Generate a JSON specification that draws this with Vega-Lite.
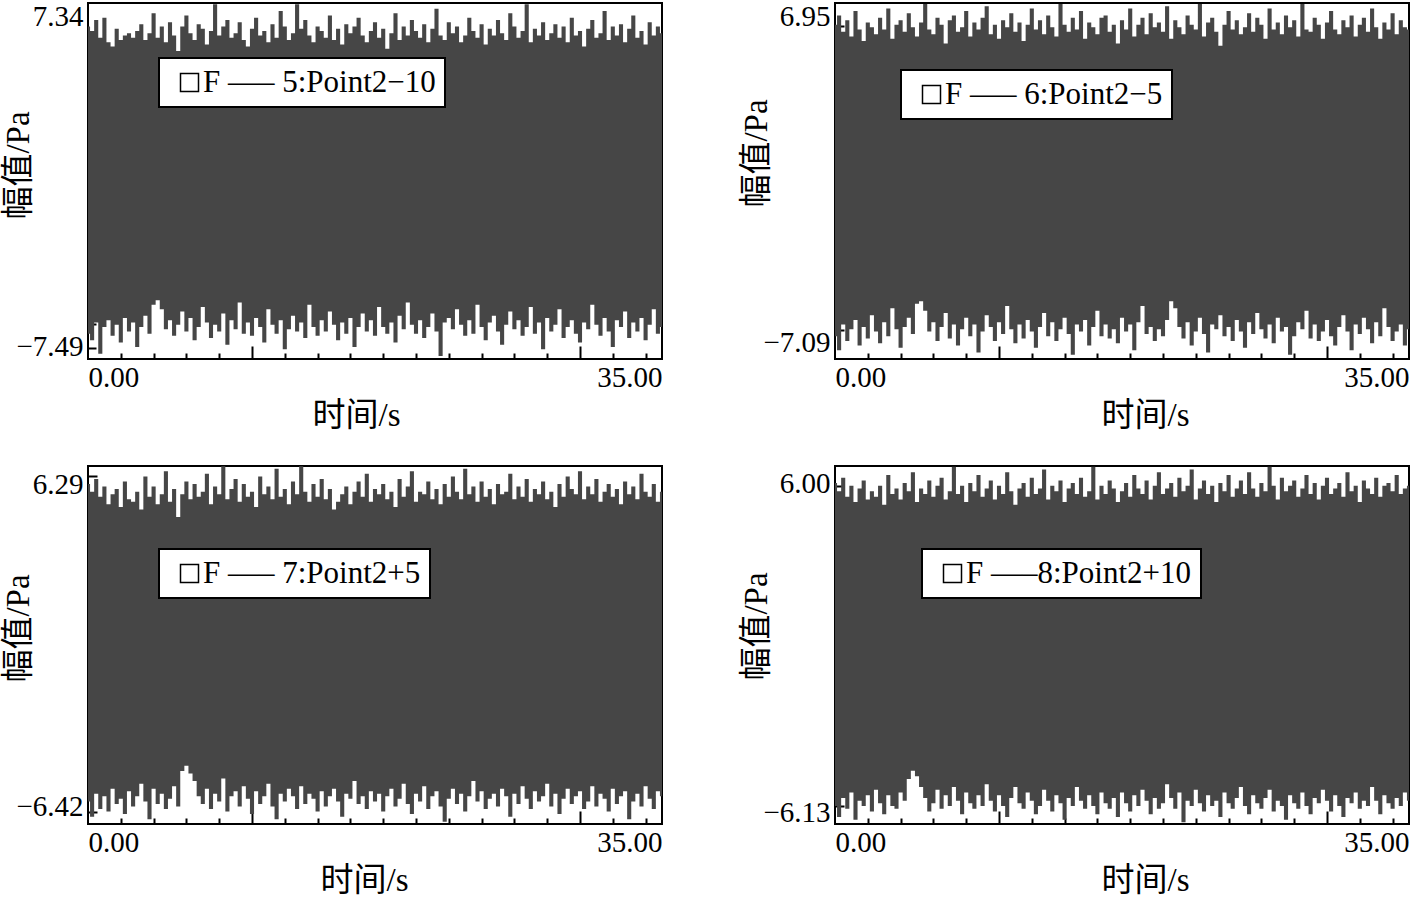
{
  "$schema": "https://vega.github.io/schema/vega-lite/v6.json",
  "background": "white",
  "padding": {"left": 1, "top": 1, "right": 0, "bottom": 0},
  "config": {
    "view": {"stroke": "black", "strokeWidth": 2},
    "axis": {"labelFont": "Liberation Serif", "labelFontSize": 29, "labelColor": "black", "titleFont": "Liberation Serif, Noto Sans CJK SC", "titleFontSize": 33, "titleFontWeight": "normal", "titleColor": "black", "domain": false, "grid": false, "tickColor": "black", "tickWidth": 2, "labelOverlap": false},
    "legend": {"strokeWidth": 2, "orient": "none", "fillColor": "white", "strokeColor": "black", "padding": 9, "symbolType": "square", "symbolSize": 324, "symbolStrokeWidth": 1.5, "symbolStrokeColor": "black", "symbolOffset": 6, "labelOffset": -2, "labelFont": "Liberation Serif", "labelFontSize": 31, "labelColor": "black", "labelLimit": 500}
  },
  "datasets": {
    "p1": [
      {"t":0,"h":6.9,"l":-6.9},{"t":0.25,"h":6.7,"l":-7.2},{"t":0.5,"h":7.2,"l":-6.4},{"t":0.75,"h":6.4,"l":-7.8},{"t":1,"h":7.3,"l":-6.6},{"t":1.25,"h":6.2,"l":-6.3},{"t":1.5,"h":6.0,"l":-7.0},{"t":1.75,"h":6.8,"l":-6.5},{"t":2,"h":6.3,"l":-7.3},{"t":2.25,"h":6.5,"l":-6.2},
      {"t":2.5,"h":6.6,"l":-6.8},{"t":2.75,"h":6.4,"l":-6.4},{"t":3,"h":6.7,"l":-7.5},{"t":3.25,"h":7.0,"l":-6.6},{"t":3.5,"h":6.3,"l":-6.1},{"t":3.75,"h":6.6,"l":-6.9},{"t":4,"h":7.5,"l":-5.6},{"t":4.25,"h":6.4,"l":-5.4},{"t":4.5,"h":6.9,"l":-5.8},{"t":4.75,"h":6.2,"l":-6.7},
      {"t":5,"h":7.1,"l":-6.3},{"t":5.25,"h":6.5,"l":-7.0},{"t":5.5,"h":5.8,"l":-6.5},{"t":5.75,"h":6.9,"l":-5.9},{"t":6,"h":7.4,"l":-6.8},{"t":6.25,"h":6.6,"l":-6.2},{"t":6.5,"h":6.3,"l":-7.2},{"t":6.75,"h":7.0,"l":-6.6},{"t":7,"h":6.8,"l":-5.7},{"t":7.25,"h":6.1,"l":-6.4},
      {"t":7.5,"h":6.7,"l":-7.1},{"t":7.75,"h":7.9,"l":-6.5},{"t":8,"h":6.5,"l":-6.8},{"t":8.25,"h":6.9,"l":-6.0},{"t":8.5,"h":7.2,"l":-7.4},{"t":8.75,"h":6.4,"l":-6.3},{"t":9,"h":6.6,"l":-6.7},{"t":9.25,"h":7.1,"l":-5.5},{"t":9.5,"h":6.3,"l":-6.9},{"t":9.75,"h":6.0,"l":-6.4},
      {"t":10,"h":6.8,"l":-7.0},{"t":10.25,"h":7.3,"l":-6.2},{"t":10.5,"h":6.5,"l":-6.6},{"t":10.75,"h":6.7,"l":-7.3},{"t":11,"h":6.2,"l":-5.8},{"t":11.25,"h":7.0,"l":-6.5},{"t":11.5,"h":6.4,"l":-6.9},{"t":11.75,"h":7.6,"l":-6.3},{"t":12,"h":6.9,"l":-7.6},{"t":12.25,"h":6.3,"l":-6.7},
      {"t":12.5,"h":6.6,"l":-6.1},{"t":12.75,"h":7.9,"l":-6.8},{"t":13,"h":6.8,"l":-6.4},{"t":13.25,"h":7.2,"l":-7.1},{"t":13.5,"h":6.5,"l":-5.6},{"t":13.75,"h":6.2,"l":-6.6},{"t":14,"h":6.9,"l":-7.0},{"t":14.25,"h":6.7,"l":-6.3},{"t":14.5,"h":6.4,"l":-6.8},{"t":14.75,"h":7.4,"l":-5.9},
      {"t":15,"h":6.3,"l":-6.5},{"t":15.25,"h":6.8,"l":-7.2},{"t":15.5,"h":6.1,"l":-6.4},{"t":15.75,"h":7.0,"l":-6.9},{"t":16,"h":6.6,"l":-6.2},{"t":16.25,"h":6.9,"l":-7.5},{"t":16.5,"h":7.3,"l":-6.6},{"t":16.75,"h":6.5,"l":-6.0},{"t":17,"h":6.2,"l":-6.8},{"t":17.25,"h":6.7,"l":-6.3},
      {"t":17.5,"h":7.1,"l":-7.0},{"t":17.75,"h":6.4,"l":-5.7},{"t":18,"h":6.8,"l":-6.6},{"t":18.25,"h":5.9,"l":-6.9},{"t":18.5,"h":6.6,"l":-6.4},{"t":18.75,"h":7.5,"l":-7.3},{"t":19,"h":6.3,"l":-6.1},{"t":19.25,"h":6.9,"l":-6.7},{"t":19.5,"h":6.5,"l":-5.5},{"t":19.75,"h":7.2,"l":-6.5},
      {"t":20,"h":6.7,"l":-6.9},{"t":20.25,"h":6.4,"l":-6.3},{"t":20.5,"h":7.0,"l":-7.1},{"t":20.75,"h":6.2,"l":-6.6},{"t":21,"h":6.8,"l":-6.0},{"t":21.25,"h":7.7,"l":-6.8},{"t":21.5,"h":6.5,"l":-7.9},{"t":21.75,"h":6.3,"l":-6.4},{"t":22,"h":7.1,"l":-6.2},{"t":22.25,"h":6.6,"l":-6.7},
      {"t":22.5,"h":6.9,"l":-5.8},{"t":22.75,"h":6.2,"l":-6.5},{"t":23,"h":6.5,"l":-7.0},{"t":23.25,"h":7.3,"l":-6.3},{"t":23.5,"h":6.7,"l":-6.9},{"t":23.75,"h":6.4,"l":-5.6},{"t":24,"h":7.0,"l":-6.6},{"t":24.25,"h":6.1,"l":-7.2},{"t":24.5,"h":6.8,"l":-6.4},{"t":24.75,"h":6.5,"l":-6.1},
      {"t":25,"h":7.2,"l":-6.8},{"t":25.25,"h":6.6,"l":-7.4},{"t":25.5,"h":6.3,"l":-6.5},{"t":25.75,"h":7.5,"l":-5.9},{"t":26,"h":6.9,"l":-6.7},{"t":26.25,"h":6.4,"l":-6.3},{"t":26.5,"h":6.7,"l":-7.0},{"t":26.75,"h":7.9,"l":-6.6},{"t":27,"h":6.2,"l":-5.7},{"t":27.25,"h":6.8,"l":-6.9},
      {"t":27.5,"h":6.5,"l":-6.4},{"t":27.75,"h":7.1,"l":-7.6},{"t":28,"h":6.3,"l":-6.2},{"t":28.25,"h":6.6,"l":-6.8},{"t":28.5,"h":7.0,"l":-6.5},{"t":28.75,"h":6.4,"l":-5.8},{"t":29,"h":6.9,"l":-7.1},{"t":29.25,"h":6.2,"l":-6.6},{"t":29.5,"h":7.3,"l":-6.3},{"t":29.75,"h":6.5,"l":-6.9},
      {"t":30,"h":6.7,"l":-7.3},{"t":30.25,"h":6.0,"l":-6.4},{"t":30.5,"h":6.8,"l":-6.7},{"t":30.75,"h":7.2,"l":-5.6},{"t":31,"h":6.4,"l":-6.5},{"t":31.25,"h":6.6,"l":-7.0},{"t":31.5,"h":7.6,"l":-6.2},{"t":31.75,"h":6.3,"l":-6.8},{"t":32,"h":6.9,"l":-7.5},{"t":32.25,"h":6.5,"l":-6.3},
      {"t":32.5,"h":7.0,"l":-6.6},{"t":32.75,"h":6.2,"l":-5.9},{"t":33,"h":6.8,"l":-7.1},{"t":33.25,"h":7.4,"l":-6.4},{"t":33.5,"h":6.4,"l":-6.8},{"t":33.75,"h":6.7,"l":-6.2},{"t":34,"h":6.1,"l":-7.2},{"t":34.25,"h":7.1,"l":-6.5},{"t":34.5,"h":6.5,"l":-5.8},{"t":34.75,"h":6.9,"l":-6.9},{"t":35,"h":6.6,"l":-6.6}
    ],
    "p2": [
      {"t":0,"h":6.6,"l":-6.8},{"t":0.25,"h":7.0,"l":-7.4},{"t":0.5,"h":6.3,"l":-6.3},{"t":0.75,"h":6.8,"l":-7.0},{"t":1,"h":6.1,"l":-6.5},{"t":1.25,"h":7.2,"l":-6.1},{"t":1.5,"h":6.4,"l":-7.2},{"t":1.75,"h":5.9,"l":-6.4},{"t":2,"h":6.7,"l":-6.9},{"t":2.25,"h":6.5,"l":-5.9},
      {"t":2.5,"h":6.2,"l":-6.6},{"t":2.75,"h":6.9,"l":-7.1},{"t":3,"h":6.4,"l":-6.2},{"t":3.25,"h":7.3,"l":-6.8},{"t":3.5,"h":6.0,"l":-5.6},{"t":3.75,"h":6.6,"l":-6.5},{"t":4,"h":6.8,"l":-7.3},{"t":4.25,"h":6.3,"l":-6.4},{"t":4.5,"h":7.1,"l":-6.0},{"t":4.75,"h":6.5,"l":-6.7},
      {"t":5,"h":6.1,"l":-5.4},{"t":5.25,"h":6.7,"l":-5.3},{"t":5.5,"h":7.5,"l":-5.7},{"t":5.75,"h":6.4,"l":-6.6},{"t":6,"h":6.2,"l":-6.2},{"t":6.25,"h":6.9,"l":-7.0},{"t":6.5,"h":6.6,"l":-6.4},{"t":6.75,"h":5.8,"l":-5.8},{"t":7,"h":6.8,"l":-6.9},{"t":7.25,"h":7.0,"l":-6.3},
      {"t":7.5,"h":6.3,"l":-7.2},{"t":7.75,"h":6.5,"l":-6.5},{"t":8,"h":7.2,"l":-6.0},{"t":8.25,"h":6.1,"l":-6.8},{"t":8.5,"h":6.7,"l":-6.3},{"t":8.75,"h":6.4,"l":-7.5},{"t":9,"h":6.9,"l":-6.6},{"t":9.25,"h":7.4,"l":-5.9},{"t":9.5,"h":6.2,"l":-6.4},{"t":9.75,"h":6.6,"l":-7.0},
      {"t":10,"h":6.0,"l":-6.2},{"t":10.25,"h":6.8,"l":-6.7},{"t":10.5,"h":6.5,"l":-5.5},{"t":10.75,"h":7.1,"l":-6.5},{"t":11,"h":6.3,"l":-7.1},{"t":11.25,"h":6.7,"l":-6.3},{"t":11.5,"h":5.9,"l":-6.9},{"t":11.75,"h":6.6,"l":-6.1},{"t":12,"h":7.3,"l":-6.6},{"t":12.25,"h":6.4,"l":-7.3},
      {"t":12.5,"h":6.8,"l":-6.4},{"t":12.75,"h":6.2,"l":-5.8},{"t":13,"h":7.0,"l":-6.8},{"t":13.25,"h":6.5,"l":-6.2},{"t":13.5,"h":6.1,"l":-7.0},{"t":13.75,"h":7.5,"l":-6.5},{"t":14,"h":6.6,"l":-6.0},{"t":14.25,"h":6.3,"l":-6.7},{"t":14.5,"h":6.9,"l":-7.6},{"t":14.75,"h":6.4,"l":-6.3},
      {"t":15,"h":7.2,"l":-6.6},{"t":15.25,"h":6.0,"l":-6.1},{"t":15.5,"h":6.7,"l":-7.2},{"t":15.75,"h":6.5,"l":-6.4},{"t":16,"h":6.2,"l":-5.7},{"t":16.25,"h":6.9,"l":-6.8},{"t":16.5,"h":7.0,"l":-6.3},{"t":16.75,"h":6.3,"l":-6.9},{"t":17,"h":6.6,"l":-6.5},{"t":17.25,"h":5.8,"l":-7.1},
      {"t":17.5,"h":6.8,"l":-6.0},{"t":17.75,"h":6.4,"l":-6.6},{"t":18,"h":7.3,"l":-6.3},{"t":18.25,"h":6.1,"l":-7.4},{"t":18.5,"h":6.6,"l":-6.2},{"t":18.75,"h":6.9,"l":-5.5},{"t":19,"h":6.2,"l":-6.7},{"t":19.25,"h":7.1,"l":-6.4},{"t":19.5,"h":6.5,"l":-7.0},{"t":19.75,"h":6.7,"l":-6.5},
      {"t":20,"h":6.3,"l":-6.8},{"t":20.25,"h":7.4,"l":-6.1},{"t":20.5,"h":6.0,"l":-5.3},{"t":20.75,"h":6.8,"l":-5.6},{"t":21,"h":6.5,"l":-6.4},{"t":21.25,"h":6.2,"l":-6.9},{"t":21.5,"h":7.0,"l":-6.2},{"t":21.75,"h":6.6,"l":-7.2},{"t":22,"h":6.4,"l":-6.6},{"t":22.25,"h":7.5,"l":-6.0},
      {"t":22.5,"h":6.1,"l":-6.7},{"t":22.75,"h":6.7,"l":-7.5},{"t":23,"h":6.9,"l":-6.3},{"t":23.25,"h":6.3,"l":-6.5},{"t":23.5,"h":5.7,"l":-5.9},{"t":23.75,"h":6.6,"l":-6.8},{"t":24,"h":7.2,"l":-6.4},{"t":24.25,"h":6.4,"l":-7.0},{"t":24.5,"h":6.8,"l":-6.1},{"t":24.75,"h":6.2,"l":-6.6},
      {"t":25,"h":6.5,"l":-7.3},{"t":25.25,"h":7.1,"l":-6.2},{"t":25.5,"h":6.3,"l":-6.7},{"t":25.75,"h":6.9,"l":-5.8},{"t":26,"h":6.6,"l":-6.5},{"t":26.25,"h":6.0,"l":-6.9},{"t":26.5,"h":7.3,"l":-6.3},{"t":26.75,"h":6.4,"l":-7.1},{"t":27,"h":6.7,"l":-6.0},{"t":27.25,"h":6.2,"l":-6.6},
      {"t":27.5,"h":7.0,"l":-6.4},{"t":27.75,"h":6.5,"l":-7.6},{"t":28,"h":6.8,"l":-6.8},{"t":28.25,"h":6.1,"l":-6.2},{"t":28.5,"h":7.5,"l":-6.5},{"t":28.75,"h":6.4,"l":-5.7},{"t":29,"h":6.3,"l":-6.9},{"t":29.25,"h":6.9,"l":-6.3},{"t":29.5,"h":6.6,"l":-7.0},{"t":29.75,"h":6.0,"l":-6.6},
      {"t":30,"h":6.7,"l":-6.1},{"t":30.25,"h":7.2,"l":-6.8},{"t":30.5,"h":6.4,"l":-7.2},{"t":30.75,"h":6.2,"l":-6.4},{"t":31,"h":6.8,"l":-5.9},{"t":31.25,"h":6.5,"l":-6.6},{"t":31.5,"h":7.0,"l":-7.4},{"t":31.75,"h":6.1,"l":-6.3},{"t":32,"h":6.6,"l":-6.7},{"t":32.25,"h":6.9,"l":-6.0},
      {"t":32.5,"h":6.3,"l":-6.5},{"t":32.75,"h":7.3,"l":-7.1},{"t":33,"h":6.5,"l":-6.2},{"t":33.25,"h":6.0,"l":-6.8},{"t":33.5,"h":6.7,"l":-5.6},{"t":33.75,"h":6.4,"l":-6.4},{"t":34,"h":7.1,"l":-7.0},{"t":34.25,"h":6.2,"l":-6.6},{"t":34.5,"h":6.8,"l":-6.3},{"t":34.75,"h":6.5,"l":-7.2},{"t":35,"h":6.4,"l":-6.5}
    ],
    "p3": [
      {"t":0,"h":6.3,"l":-6.2},{"t":0.25,"h":6.0,"l":-6.8},{"t":0.5,"h":6.5,"l":-5.9},{"t":0.75,"h":5.8,"l":-6.5},{"t":1,"h":6.2,"l":-6.0},{"t":1.25,"h":5.5,"l":-6.6},{"t":1.5,"h":5.9,"l":-5.7},{"t":1.75,"h":6.1,"l":-6.3},{"t":2,"h":5.4,"l":-6.1},{"t":2.25,"h":6.4,"l":-6.7},
      {"t":2.5,"h":5.7,"l":-5.8},{"t":2.75,"h":5.6,"l":-6.4},{"t":3,"h":6.0,"l":-6.0},{"t":3.25,"h":5.3,"l":-5.5},{"t":3.5,"h":6.6,"l":-6.2},{"t":3.75,"h":5.8,"l":-6.9},{"t":4,"h":6.2,"l":-5.7},{"t":4.25,"h":5.5,"l":-6.3},{"t":4.5,"h":5.9,"l":-5.9},{"t":4.75,"h":6.8,"l":-6.5},
      {"t":5,"h":5.6,"l":-6.1},{"t":5.25,"h":6.1,"l":-5.6},{"t":5.5,"h":5.0,"l":-6.4},{"t":5.75,"h":5.9,"l":-5.0},{"t":6,"h":6.4,"l":-4.8},{"t":6.25,"h":5.7,"l":-5.1},{"t":6.5,"h":6.3,"l":-5.4},{"t":6.75,"h":5.8,"l":-6.0},{"t":7,"h":6.0,"l":-6.3},{"t":7.25,"h":6.7,"l":-5.7},
      {"t":7.5,"h":5.5,"l":-6.5},{"t":7.75,"h":6.2,"l":-5.9},{"t":8,"h":5.9,"l":-6.2},{"t":8.25,"h":7.0,"l":-5.3},{"t":8.5,"h":5.7,"l":-6.6},{"t":8.75,"h":6.1,"l":-6.0},{"t":9,"h":6.5,"l":-5.8},{"t":9.25,"h":5.6,"l":-6.4},{"t":9.5,"h":6.3,"l":-5.6},{"t":9.75,"h":5.8,"l":-6.1},
      {"t":10,"h":6.0,"l":-6.7},{"t":10.25,"h":5.4,"l":-5.8},{"t":10.5,"h":6.6,"l":-6.3},{"t":10.75,"h":5.9,"l":-6.0},{"t":11,"h":6.2,"l":-5.5},{"t":11.25,"h":5.7,"l":-6.4},{"t":11.5,"h":6.9,"l":-6.9},{"t":11.75,"h":5.8,"l":-5.9},{"t":12,"h":6.1,"l":-6.2},{"t":12.25,"h":5.5,"l":-5.7},
      {"t":12.5,"h":6.4,"l":-6.0},{"t":12.75,"h":5.9,"l":-6.5},{"t":13,"h":7.0,"l":-5.6},{"t":13.25,"h":6.0,"l":-6.3},{"t":13.5,"h":5.6,"l":-5.9},{"t":13.75,"h":6.3,"l":-6.1},{"t":14,"h":5.8,"l":-6.6},{"t":14.25,"h":6.5,"l":-5.8},{"t":14.5,"h":5.7,"l":-6.4},{"t":14.75,"h":6.1,"l":-6.0},
      {"t":15,"h":5.3,"l":-5.7},{"t":15.25,"h":5.6,"l":-6.2},{"t":15.5,"h":5.9,"l":-6.8},{"t":15.75,"h":6.2,"l":-5.9},{"t":16,"h":5.5,"l":-6.1},{"t":16.25,"h":6.0,"l":-5.4},{"t":16.5,"h":6.4,"l":-6.3},{"t":16.75,"h":5.8,"l":-6.0},{"t":17,"h":6.7,"l":-6.5},{"t":17.25,"h":5.6,"l":-5.8},
      {"t":17.5,"h":6.1,"l":-6.2},{"t":17.75,"h":5.9,"l":-5.9},{"t":18,"h":6.3,"l":-6.6},{"t":18.25,"h":5.7,"l":-6.0},{"t":18.5,"h":6.0,"l":-5.7},{"t":18.75,"h":5.4,"l":-6.4},{"t":19,"h":6.5,"l":-6.1},{"t":19.25,"h":5.8,"l":-5.5},{"t":19.5,"h":6.2,"l":-6.3},{"t":19.75,"h":6.8,"l":-6.7},
      {"t":20,"h":5.6,"l":-5.9},{"t":20.25,"h":6.0,"l":-6.2},{"t":20.5,"h":5.9,"l":-5.6},{"t":20.75,"h":6.4,"l":-6.5},{"t":21,"h":5.7,"l":-6.0},{"t":21.25,"h":6.1,"l":-5.8},{"t":21.5,"h":5.5,"l":-6.4},{"t":21.75,"h":6.3,"l":-7.0},{"t":22,"h":5.8,"l":-6.1},{"t":22.25,"h":6.6,"l":-5.7},
      {"t":22.5,"h":6.0,"l":-6.3},{"t":22.75,"h":5.7,"l":-5.9},{"t":23,"h":6.9,"l":-6.6},{"t":23.25,"h":5.9,"l":-6.0},{"t":23.5,"h":6.2,"l":-5.4},{"t":23.75,"h":5.6,"l":-6.2},{"t":24,"h":6.4,"l":-5.8},{"t":24.25,"h":5.8,"l":-6.5},{"t":24.5,"h":6.1,"l":-6.1},{"t":24.75,"h":5.5,"l":-5.9},
      {"t":25,"h":6.3,"l":-6.4},{"t":25.25,"h":5.9,"l":-5.7},{"t":25.5,"h":6.0,"l":-6.0},{"t":25.75,"h":6.7,"l":-6.8},{"t":26,"h":5.7,"l":-5.9},{"t":26.25,"h":6.2,"l":-6.3},{"t":26.5,"h":5.8,"l":-5.6},{"t":26.75,"h":6.5,"l":-6.1},{"t":27,"h":5.6,"l":-6.5},{"t":27.25,"h":6.1,"l":-5.8},
      {"t":27.5,"h":5.9,"l":-6.2},{"t":27.75,"h":6.4,"l":-6.0},{"t":28,"h":5.7,"l":-5.5},{"t":28.25,"h":6.0,"l":-6.4},{"t":28.5,"h":5.4,"l":-5.9},{"t":28.75,"h":6.3,"l":-6.7},{"t":29,"h":5.8,"l":-6.1},{"t":29.25,"h":6.6,"l":-5.7},{"t":29.5,"h":6.1,"l":-6.3},{"t":29.75,"h":5.9,"l":-6.0},
      {"t":30,"h":6.8,"l":-5.8},{"t":30.25,"h":5.7,"l":-6.5},{"t":30.5,"h":6.2,"l":-6.2},{"t":30.75,"h":5.9,"l":-5.6},{"t":31,"h":6.5,"l":-6.4},{"t":31.25,"h":5.6,"l":-5.9},{"t":31.5,"h":6.0,"l":-6.1},{"t":31.75,"h":6.3,"l":-6.6},{"t":32,"h":5.8,"l":-5.7},{"t":32.25,"h":6.1,"l":-6.3},
      {"t":32.5,"h":5.5,"l":-6.0},{"t":32.75,"h":6.4,"l":-5.8},{"t":33,"h":5.9,"l":-6.9},{"t":33.25,"h":6.2,"l":-6.2},{"t":33.5,"h":5.7,"l":-5.9},{"t":33.75,"h":6.7,"l":-6.4},{"t":34,"h":6.0,"l":-5.6},{"t":34.25,"h":5.8,"l":-6.1},{"t":34.5,"h":6.3,"l":-6.5},{"t":34.75,"h":5.6,"l":-5.8},{"t":35,"h":6.0,"l":-6.0}
    ],
    "p4": [
      {"t":0,"h":6.0,"l":-5.9},{"t":0.25,"h":5.7,"l":-6.3},{"t":0.5,"h":6.2,"l":-5.6},{"t":0.75,"h":5.5,"l":-6.0},{"t":1,"h":5.9,"l":-5.4},{"t":1.25,"h":5.3,"l":-6.4},{"t":1.5,"h":5.8,"l":-5.7},{"t":1.75,"h":6.1,"l":-5.9},{"t":2,"h":5.4,"l":-5.5},{"t":2.25,"h":5.7,"l":-6.1},
      {"t":2.5,"h":5.5,"l":-5.3},{"t":2.75,"h":5.9,"l":-5.8},{"t":3,"h":5.2,"l":-6.2},{"t":3.25,"h":6.3,"l":-5.5},{"t":3.5,"h":5.6,"l":-5.9},{"t":3.75,"h":5.8,"l":-6.0},{"t":4,"h":5.4,"l":-5.4},{"t":4.25,"h":6.0,"l":-5.7},{"t":4.5,"h":5.7,"l":-4.9},{"t":4.75,"h":6.4,"l":-4.6},
      {"t":5,"h":5.3,"l":-4.8},{"t":5.25,"h":5.8,"l":-5.2},{"t":5.5,"h":5.6,"l":-5.6},{"t":5.75,"h":6.1,"l":-6.1},{"t":6,"h":5.5,"l":-5.8},{"t":6.25,"h":5.9,"l":-5.3},{"t":6.5,"h":6.2,"l":-6.0},{"t":6.75,"h":5.4,"l":-5.5},{"t":7,"h":5.7,"l":-5.9},{"t":7.25,"h":6.6,"l":-5.2},
      {"t":7.5,"h":5.6,"l":-5.7},{"t":7.75,"h":5.9,"l":-6.2},{"t":8,"h":5.3,"l":-5.4},{"t":8.25,"h":6.0,"l":-5.8},{"t":8.5,"h":5.7,"l":-6.0},{"t":8.75,"h":6.3,"l":-5.5},{"t":9,"h":5.5,"l":-5.9},{"t":9.25,"h":5.8,"l":-5.1},{"t":9.5,"h":6.1,"l":-5.7},{"t":9.75,"h":5.4,"l":-6.1},
      {"t":10,"h":5.9,"l":-5.5},{"t":10.25,"h":5.6,"l":-5.9},{"t":10.5,"h":6.4,"l":-6.3},{"t":10.75,"h":5.7,"l":-5.6},{"t":11,"h":5.2,"l":-5.2},{"t":11.25,"h":5.8,"l":-5.8},{"t":11.5,"h":6.0,"l":-6.0},{"t":11.75,"h":5.5,"l":-5.4},{"t":12,"h":6.2,"l":-5.7},{"t":12.25,"h":5.6,"l":-6.2},
      {"t":12.5,"h":5.8,"l":-5.9},{"t":12.75,"h":6.5,"l":-5.3},{"t":13,"h":5.4,"l":-5.7},{"t":13.25,"h":5.9,"l":-6.1},{"t":13.5,"h":5.7,"l":-5.5},{"t":13.75,"h":6.1,"l":-5.8},{"t":14,"h":5.3,"l":-6.4},{"t":14.25,"h":5.8,"l":-5.6},{"t":14.5,"h":6.0,"l":-5.9},{"t":14.75,"h":5.6,"l":-5.2},
      {"t":15,"h":6.2,"l":-5.7},{"t":15.25,"h":5.5,"l":-6.0},{"t":15.5,"h":5.7,"l":-5.5},{"t":15.75,"h":6.6,"l":-5.9},{"t":16,"h":5.4,"l":-6.2},{"t":16.25,"h":5.9,"l":-5.4},{"t":16.5,"h":5.6,"l":-5.8},{"t":16.75,"h":6.1,"l":-6.0},{"t":17,"h":5.8,"l":-5.6},{"t":17.25,"h":5.3,"l":-6.3},
      {"t":17.5,"h":5.7,"l":-5.4},{"t":17.75,"h":6.0,"l":-5.8},{"t":18,"h":5.5,"l":-6.1},{"t":18.25,"h":6.3,"l":-5.5},{"t":18.5,"h":5.8,"l":-5.9},{"t":18.75,"h":5.6,"l":-5.3},{"t":19,"h":6.1,"l":-5.7},{"t":19.25,"h":5.4,"l":-6.2},{"t":19.5,"h":5.9,"l":-5.6},{"t":19.75,"h":6.4,"l":-6.0},
      {"t":20,"h":5.6,"l":-5.8},{"t":20.25,"h":5.8,"l":-5.1},{"t":20.5,"h":6.0,"l":-5.6},{"t":20.75,"h":5.5,"l":-6.0},{"t":21,"h":6.2,"l":-5.4},{"t":21.25,"h":5.7,"l":-6.5},{"t":21.5,"h":5.9,"l":-5.7},{"t":21.75,"h":6.5,"l":-5.9},{"t":22,"h":5.4,"l":-5.3},{"t":22.25,"h":5.8,"l":-5.8},
      {"t":22.5,"h":6.1,"l":-6.1},{"t":22.75,"h":5.6,"l":-5.5},{"t":23,"h":5.9,"l":-5.9},{"t":23.25,"h":5.3,"l":-5.7},{"t":23.5,"h":6.0,"l":-6.3},{"t":23.75,"h":5.7,"l":-5.4},{"t":24,"h":6.3,"l":-5.8},{"t":24.25,"h":5.5,"l":-6.0},{"t":24.5,"h":5.8,"l":-5.6},{"t":24.75,"h":6.1,"l":-5.2},
      {"t":25,"h":5.6,"l":-5.9},{"t":25.25,"h":6.4,"l":-6.2},{"t":25.5,"h":5.8,"l":-5.5},{"t":25.75,"h":5.5,"l":-5.8},{"t":26,"h":6.0,"l":-6.0},{"t":26.25,"h":5.7,"l":-5.6},{"t":26.5,"h":6.6,"l":-5.3},{"t":26.75,"h":5.9,"l":-6.1},{"t":27,"h":5.4,"l":-5.7},{"t":27.25,"h":6.2,"l":-5.9},
      {"t":27.5,"h":5.7,"l":-6.4},{"t":27.75,"h":5.9,"l":-5.5},{"t":28,"h":6.1,"l":-5.8},{"t":28.25,"h":5.5,"l":-6.0},{"t":28.5,"h":5.8,"l":-5.4},{"t":28.75,"h":6.3,"l":-5.9},{"t":29,"h":5.6,"l":-6.2},{"t":29.25,"h":6.0,"l":-5.6},{"t":29.5,"h":5.4,"l":-5.8},{"t":29.75,"h":5.9,"l":-5.3},
      {"t":30,"h":6.2,"l":-5.7},{"t":30.25,"h":5.6,"l":-6.1},{"t":30.5,"h":5.8,"l":-5.5},{"t":30.75,"h":6.0,"l":-5.9},{"t":31,"h":5.5,"l":-6.3},{"t":31.25,"h":6.4,"l":-5.6},{"t":31.5,"h":5.7,"l":-5.8},{"t":31.75,"h":5.9,"l":-5.4},{"t":32,"h":5.3,"l":-6.0},{"t":32.25,"h":6.1,"l":-5.7},
      {"t":32.5,"h":5.8,"l":-5.9},{"t":32.75,"h":5.6,"l":-5.2},{"t":33,"h":6.2,"l":-5.7},{"t":33.25,"h":5.5,"l":-6.2},{"t":33.5,"h":5.9,"l":-5.5},{"t":33.75,"h":6.0,"l":-5.8},{"t":34,"h":5.7,"l":-6.0},{"t":34.25,"h":6.3,"l":-5.6},{"t":34.5,"h":5.6,"l":-5.9},{"t":34.75,"h":5.8,"l":-5.4},{"t":35,"h":5.9,"l":-5.7}
    ]
  },
  "columns": 2,
  "spacing": {"row": 28, "column": 75},
  "resolve": {"scale": {"x": "independent", "y": "independent", "shape": "independent"}, "axis": {"x": "independent", "y": "independent"}, "legend": {"shape": "independent"}},
  "concat": [
    {
      "width": 574, "height": 356,
      "layer": [
        {
          "data": {"name": "p1"},
          "mark": {"type": "area", "interpolate": "step", "clip": true, "color": "#464646"},
          "encoding": {
            "x": {"field": "t", "type": "quantitative", "scale": {"domain": [0, 35], "nice": false, "zero": false},
              "axis": {"values": [0,2,4,6,8,10,12,14,16,18,20,22,24,26,28,30,32,34,35], "labelExpr": "datum.value == 0 || datum.value == 35 ? format(datum.value, '.2f') : ''", "labelFlush": true, "labelPadding": 4, "tickSize": {"expr": "datum.value == 10 || datum.value == 30 ? -13 : ((datum.value == 0 || datum.value == 35) ? 0 : -6)"}, "title": "时间/s", "titleX": 268, "titleY": 56, "titleAlign": "center", "titleBaseline": "middle"}},
            "y": {"field": "h", "type": "quantitative", "scale": {"domain": [-8.04, 7.96], "nice": false, "zero": false},
              "axis": {"values": [-7.49,-7.56,-6.48,-5.4,-4.32,-3.24,-2.16,-1.08,0,1.08,2.16,3.24,4.32,5.4,6.48,7.34], "labelExpr": "datum.value == 7.34 || datum.value == -7.49 ? format(datum.value, '.2f') : ''", "labelPadding": 5, "tickSize": {"expr": "datum.value == 0 ? -16 : ((datum.value == 7.34 || datum.value == -7.49) ? 0 : -8)"}, "title": "幅值/Pa", "titleX": -70, "titleY": 162, "titleAngle": -90, "titleAlign": "center", "titleBaseline": "middle"}},
            "y2": {"field": "l"}
          }
        },
        {
          "data": {"values": []},
          "mark": {"type": "point", "filled": false, "color": "black", "opacity": 1, "size": 324, "strokeWidth": 1.5},
          "encoding": {
            "shape": {"datum": "F —– 5:Point2−10", "type": "nominal", "scale": {"range": ["square"]},
              "legend": {"legendX": 71, "legendY": 55, "title": null}}
          }
        }
      ]
    },
    {
      "width": 574, "height": 356,
      "layer": [
        {
          "data": {"name": "p2"},
          "mark": {"type": "area", "interpolate": "step", "clip": true, "color": "#464646"},
          "encoding": {
            "x": {"field": "t", "type": "quantitative", "scale": {"domain": [0, 35], "nice": false, "zero": false},
              "axis": {"values": [0,2,4,6,8,10,12,14,16,18,20,22,24,26,28,30,32,34,35], "labelExpr": "datum.value == 0 || datum.value == 35 ? format(datum.value, '.2f') : ''", "labelFlush": true, "labelPadding": 4, "tickSize": {"expr": "datum.value == 10 || datum.value == 30 ? -13 : ((datum.value == 0 || datum.value == 35) ? 0 : -6)"}, "title": "时间/s", "titleX": 310, "titleY": 56, "titleAlign": "center", "titleBaseline": "middle"}},
            "y": {"field": "h", "type": "quantitative", "scale": {"domain": [-7.78, 7.54], "nice": false, "zero": false},
              "axis": {"values": [-7.09,-6.54,-5.45,-4.36,-3.27,-2.18,-1.09,0,1.09,2.18,3.27,4.36,5.45,6.54,6.95], "labelExpr": "datum.value == 6.95 || datum.value == -7.09 ? format(datum.value, '.2f') : ''", "labelPadding": 5, "tickSize": {"expr": "datum.value == 0 ? -16 : ((datum.value == 6.95 || datum.value == -7.09) ? 0 : -9)"}, "title": "幅值/Pa", "titleX": -79, "titleY": 150, "titleAngle": -90, "titleAlign": "center", "titleBaseline": "middle"}},
            "y2": {"field": "l"}
          }
        },
        {
          "data": {"values": []},
          "mark": {"type": "point", "filled": false, "color": "black", "opacity": 1, "size": 324, "strokeWidth": 1.5},
          "encoding": {
            "shape": {"datum": "F —– 6:Point2−5", "type": "nominal", "scale": {"range": ["square"]},
              "legend": {"legendX": 66, "legendY": 67, "title": null}}
          }
        }
      ]
    },
    {
      "width": 574, "height": 358,
      "layer": [
        {
          "data": {"name": "p3"},
          "mark": {"type": "area", "interpolate": "step", "clip": true, "color": "#464646"},
          "encoding": {
            "x": {"field": "t", "type": "quantitative", "scale": {"domain": [0, 35], "nice": false, "zero": false},
              "axis": {"values": [0,2,4,6,8,10,12,14,16,18,20,22,24,26,28,30,32,34,35], "labelExpr": "datum.value == 0 || datum.value == 35 ? format(datum.value, '.2f') : ''", "labelFlush": true, "labelPadding": 4, "tickSize": {"expr": "datum.value == 10 || datum.value == 30 ? -13 : ((datum.value == 0 || datum.value == 35) ? 0 : -6)"}, "title": "时间/s", "titleX": 276, "titleY": 56, "titleAlign": "center", "titleBaseline": "middle"}},
            "y": {"field": "h", "type": "quantitative", "scale": {"domain": [-7.09, 7.01], "nice": false, "zero": false},
              "axis": {"values": [-6.42,-6.6,-5.5,-4.4,-3.3,-2.2,-1.1,0,1.1,2.2,3.3,4.4,5.5,6.6,6.29], "labelExpr": "datum.value == 6.29 || datum.value == -6.42 ? format(datum.value, '.2f') : ''", "labelPadding": 5, "tickSize": {"expr": "datum.value == 0 ? -16 : ((datum.value == 6.29 || datum.value == -6.42) ? 0 : -9)"}, "title": "幅值/Pa", "titleX": -70, "titleY": 162, "titleAngle": -90, "titleAlign": "center", "titleBaseline": "middle"}},
            "y2": {"field": "l"}
          }
        },
        {
          "data": {"values": []},
          "mark": {"type": "point", "filled": false, "color": "black", "opacity": 1, "size": 324, "strokeWidth": 1.5},
          "encoding": {
            "shape": {"datum": "F —– 7:Point2+5", "type": "nominal", "scale": {"range": ["square"]},
              "legend": {"legendX": 71, "legendY": 83, "title": null}}
          }
        }
      ]
    },
    {
      "width": 574, "height": 358,
      "layer": [
        {
          "data": {"name": "p4"},
          "mark": {"type": "area", "interpolate": "step", "clip": true, "color": "#464646"},
          "encoding": {
            "x": {"field": "t", "type": "quantitative", "scale": {"domain": [0, 35], "nice": false, "zero": false},
              "axis": {"values": [0,2,4,6,8,10,12,14,16,18,20,22,24,26,28,30,32,34,35], "labelExpr": "datum.value == 0 || datum.value == 35 ? format(datum.value, '.2f') : ''", "labelFlush": true, "labelPadding": 4, "tickSize": {"expr": "datum.value == 10 || datum.value == 30 ? -13 : ((datum.value == 0 || datum.value == 35) ? 0 : -6)"}, "title": "时间/s", "titleX": 310, "titleY": 56, "titleAlign": "center", "titleBaseline": "middle"}},
            "y": {"field": "h", "type": "quantitative", "scale": {"domain": [-6.56, 6.63], "nice": false, "zero": false},
              "axis": {"values": [-6.13,-5.9,-4.72,-3.54,-2.36,-1.18,0,1.18,2.36,3.54,4.72,5.9,6.0], "labelExpr": "datum.value == 6.0 || datum.value == -6.13 ? format(datum.value, '.2f') : ''", "labelPadding": 5, "tickSize": {"expr": "datum.value == 0 ? -16 : ((datum.value == 6.0 || datum.value == -6.13) ? 0 : -9)"}, "title": "幅值/Pa", "titleX": -79, "titleY": 160, "titleAngle": -90, "titleAlign": "center", "titleBaseline": "middle"}},
            "y2": {"field": "l"}
          }
        },
        {
          "data": {"values": []},
          "mark": {"type": "point", "filled": false, "color": "black", "opacity": 1, "size": 324, "strokeWidth": 1.5},
          "encoding": {
            "shape": {"datum": "F —–8:Point2+10", "type": "nominal", "scale": {"range": ["square"]},
              "legend": {"legendX": 87, "legendY": 83, "title": null}}
          }
        }
      ]
    }
  ]
}
